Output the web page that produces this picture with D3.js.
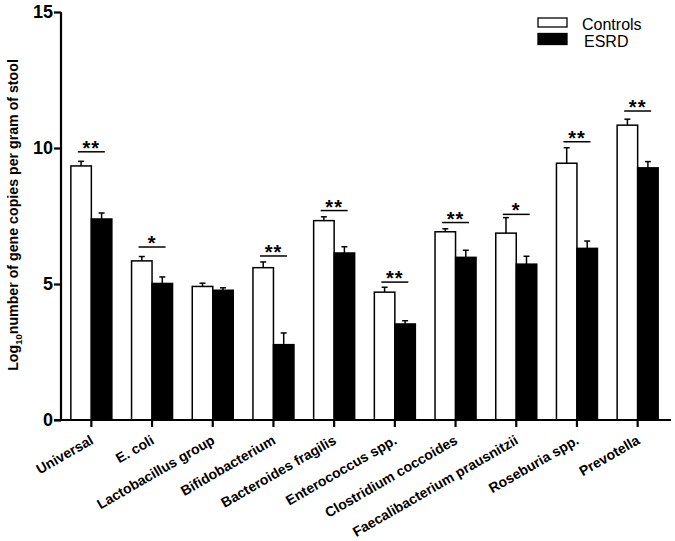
<!DOCTYPE html>
<html><head><meta charset="utf-8">
<script src="https://cdn.jsdelivr.net/npm/d3@7/dist/d3.min.js"></script>
<style>body{margin:0;background:#fff;} text{font-family:"Liberation Sans",Arial,sans-serif;}</style>
</head><body>
<svg id="c" width="675" height="541"></svg>
<script>
const categories = ["Universal","E. coli","Lactobacillus group","Bifidobacterium","Bacteroides fragilis","Enterococcus spp.","Clostridium coccoides","Faecalibacterium prausnitzii","Roseburia spp.","Prevotella"];
const controls    = [9.34, 5.85, 4.91, 5.60, 7.33, 4.70, 6.92, 6.87, 9.44, 10.84];
const controlsErr = [0.17, 0.16, 0.12, 0.21, 0.14, 0.18, 0.11, 0.57, 0.57, 0.22];
const esrd        = [7.39, 5.02, 4.77, 2.77, 6.14, 3.53, 5.98, 5.73, 6.31, 9.27];
const esrdErr     = [0.22, 0.24, 0.09, 0.43, 0.23, 0.12, 0.26, 0.29, 0.27, 0.23];
const sigMarks    = ["**","*","","**","**","**","**","*","**","**"];
const sigLevel    = [9.86, 6.36, null, 6.03, 7.70, 5.07, 7.26, 7.56, 10.23, 11.36];
const yTicks = [0,5,10,15];
const seriesNames = ["Controls","ESRD"];

const svg = d3.select("#c");
const y = d3.scaleLinear().domain([0,15]).range([420,12]);
const x = d3.scaleBand().domain(categories).range([61,668]);
const barW = 20.5;
const xs = d3.scaleBand().domain(seriesNames).range([-barW, barW]);

const g = svg.append("g");
const groups = g.selectAll("g.cat").data(categories).join("g")
  .attr("transform", d => `translate(${x(d)+x.bandwidth()/2},0)`);

const series = [
  {name:"Controls", vals:controls, errs:controlsErr, fill:"#fff"},
  {name:"ESRD", vals:esrd, errs:esrdErr, fill:"#000"}
];
series.forEach(s => {
  groups.each(function(d,i){
    const gg = d3.select(this);
    const x0 = xs(s.name);
    const cx = x0 + xs.bandwidth()/2;
    gg.append("line").attr("x1",cx).attr("x2",cx)
      .attr("y1",y(s.vals[i])).attr("y2",y(s.vals[i]+s.errs[i]))
      .attr("stroke","#000").attr("stroke-width",1.5);
    gg.append("line").attr("x1",cx-3).attr("x2",cx+3)
      .attr("y1",y(s.vals[i]+s.errs[i])).attr("y2",y(s.vals[i]+s.errs[i]))
      .attr("stroke","#000").attr("stroke-width",1.5);
    gg.append("rect").attr("x",x0).attr("width",xs.bandwidth())
      .attr("y",y(s.vals[i])).attr("height",y(0)-y(s.vals[i]))
      .attr("fill",s.fill).attr("stroke","#000").attr("stroke-width",1.5);
  });
});

groups.each(function(d,i){
  if(!sigMarks[i]) return;
  const gg = d3.select(this);
  gg.append("line").attr("x1",-13.5).attr("x2",13.5)
    .attr("y1",y(sigLevel[i])).attr("y2",y(sigLevel[i]))
    .attr("stroke","#000").attr("stroke-width",1.5);
  gg.append("text").attr("x",0).attr("y",y(sigLevel[i])+3)
    .attr("text-anchor","middle").attr("font-size","20px").attr("font-weight","bold")
    .attr("letter-spacing","1px")
    .text(sigMarks[i]);
});

const yAxis = svg.append("g").attr("transform","translate(61,0)")
  .call(d3.axisLeft(y).tickValues(yTicks).tickSize(7).tickPadding(1).tickFormat(d3.format("d")));
yAxis.select(".domain").attr("d","M0,12V420").attr("stroke-width",2.2);
yAxis.selectAll(".tick line").attr("stroke-width",2.2);
yAxis.selectAll(".tick text").attr("font-size","18px").attr("font-weight","bold")
  .attr("font-family","'Liberation Sans',Arial,sans-serif").attr("fill","#000");

const xAxis = svg.append("g").attr("transform","translate(0,420)")
  .call(d3.axisBottom(x).tickSize(7).tickSizeOuter(0).tickPadding(4));
xAxis.select(".domain").attr("d","M54,0H671").attr("stroke-width",2.2);
xAxis.selectAll(".tick line").attr("stroke-width",2.2);
xAxis.selectAll(".tick text")
  .attr("font-size","14px").attr("font-weight","bold").attr("fill","#000")
  .attr("font-family","'Liberation Sans',Arial,sans-serif")
  .attr("text-anchor","end").attr("dy",null).attr("y",0)
  .attr("transform","translate(3,23) rotate(-30)");

const yt = svg.append("text").attr("transform","translate(18,215) rotate(-90)")
  .attr("text-anchor","middle").attr("font-size","14.2px").attr("font-weight","bold");
yt.append("tspan").text("Log");
yt.append("tspan").attr("font-size","9.5px").attr("dy",4).text("10");
yt.append("tspan").attr("dy",-4).text("number of gene copies per gram of stool");

const leg = svg.append("g");
seriesNames.forEach((n,i) => {
  leg.append("rect").attr("x",538).attr("y",18+i*15.5).attr("width",29).attr("height",i?11:9)
    .attr("fill", i ? "#000" : "#fff").attr("stroke","#000").attr("stroke-width",1.3);
  leg.append("text").attr("x", i ? 584 : 582).attr("y",29.5+i*17).attr("font-size","16px").text(n);
});
</script>
</body></html>
